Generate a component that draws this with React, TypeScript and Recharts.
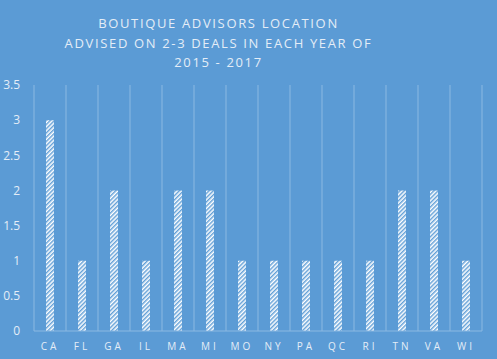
import { BarChart, Bar, XAxis, YAxis, CartesianGrid } from 'recharts'

const states = ['CA', 'FL', 'GA', 'IL', 'MA', 'MI', 'MO', 'NY', 'PA', 'QC', 'RI', 'TN', 'VA', 'WI']
const advisorCounts = [3, 1, 2, 1, 2, 2, 1, 1, 1, 1, 1, 2, 2, 1]
const yTicks = [0, 0.5, 1, 1.5, 2, 2.5, 3, 3.5]
const titleLines = ['BOUTIQUE ADVISORS LOCATION', 'ADVISED ON 2-3 DEALS IN EACH YEAR OF', '2015 - 2017']

const BG = '#5b9bd5'
const TEXT = '#e4edf7'
const GRID = '#8cb9e2'

const data = states.map((s, i) => ({ state: s, count: advisorCounts[i] }))

export default function App() {
  return (
    <div style={{ position: 'fixed', left: 0, top: 0, width: 497, height: 359, background: BG, fontFamily: '"Open Sans", sans-serif' }}>
      <div style={{ position: 'absolute', left: 0, top: 14, width: 437, textAlign: 'center', color: TEXT, fontSize: 13, letterSpacing: 1.65, lineHeight: '19.5px' }}>
        {titleLines.map((t) => (
          <div key={t}>{t}</div>
        ))}
      </div>
      <BarChart width={497} height={359} data={data} margin={{ top: 85, right: 15, left: 0, bottom: 0 }}>
        <defs>
          <pattern id="hatch" width={3} height={3} patternUnits="userSpaceOnUse" patternTransform="rotate(45)">
            <rect width={3} height={3} fill="#ffffff" />
            <line x1={0.75} y1={0} x2={0.75} y2={3} stroke={BG} strokeWidth={1.4} />
          </pattern>
        </defs>
        <CartesianGrid
          horizontal={false}
          stroke={GRID}
          verticalCoordinatesGenerator={({ offset }: any) =>
            Array.from({ length: states.length + 1 }, (_, i) => offset.left + (offset.width * i) / states.length)
          }
        />
        <XAxis
          dataKey="state"
          height={28}
          axisLine={{ stroke: GRID }}
          tickLine={false}
          tick={{ fill: TEXT, fontSize: 10, letterSpacing: 3 }}
          tickMargin={6}
        />
        <YAxis
          width={34}
          domain={[0, 3.5]}
          ticks={yTicks}
          axisLine={false}
          tickLine={false}
          tick={{ fill: TEXT, fontSize: 12 }}
          tickMargin={8}
        />
        <Bar dataKey="count" fill="url(#hatch)" barSize={8} isAnimationActive={false} />
      </BarChart>
    </div>
  )
}
